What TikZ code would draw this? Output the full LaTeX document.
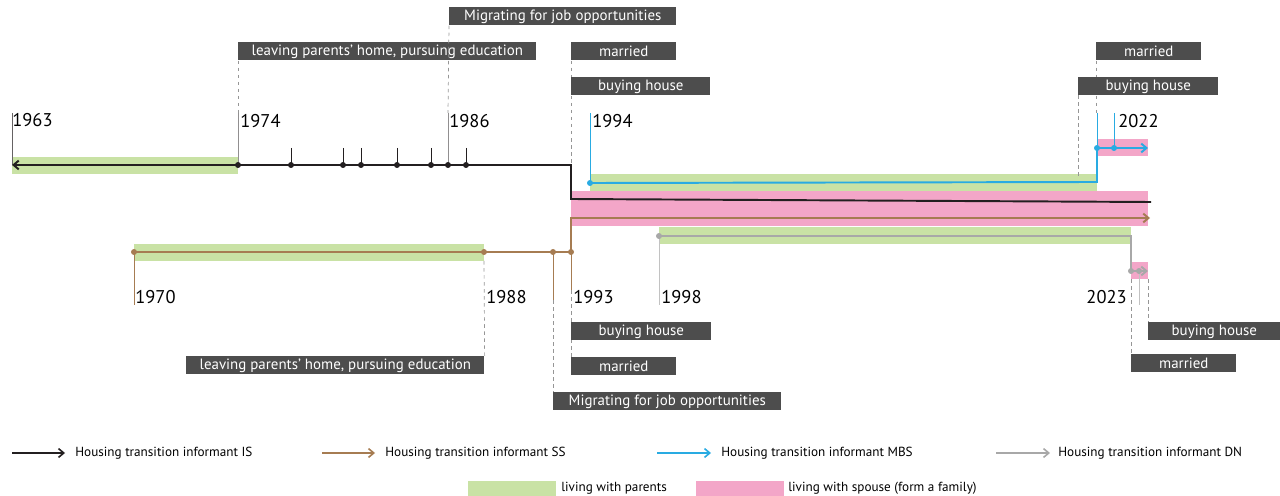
\documentclass[tikz,border=0pt]{standalone}
\usepackage{fontspec}
\setmainfont{PT Sans}
\usetikzlibrary{arrows.meta, positioning}
\definecolor{isblack}{RGB}{35,31,32}
\definecolor{ssbrown}{RGB}{166,124,82}
\definecolor{mbsblue}{RGB}{41,171,226}
\definecolor{dngray}{RGB}{168,168,168}
\definecolor{guidegray}{RGB}{150,150,150}
\definecolor{bandgreen}{RGB}{201,226,165}
\definecolor{bandpink}{RGB}{243,166,200}
\definecolor{tagfill}{RGB}{77,77,77}

\begin{document}
\begin{tikzpicture}[
  x=0.02cm, y=-0.02cm,
  tag/.style={
    fill=tagfill, text=white, anchor=north west,
    minimum height=0.36cm, inner sep=0pt,
    font=\fontsize{8.5}{10}\selectfont
  },
  year/.style={font=\fontsize{10.5}{12}\selectfont, inner sep=0pt, anchor=base west},
  legend/.style={font=\fontsize{7.5}{9}\selectfont, inner sep=0pt, anchor=west},
  guide/.style={draw=guidegray, dash pattern=on 2pt off 2pt, line width=0.4pt},
  yearline/.style={line width=0.5pt},
  track/.style={line width=1.1pt},
  arrowed/.style={-{Straight Barb[length=3pt,width=5pt]}},
]
\useasboundingbox (0,0) rectangle (1280,496);

% bands
\fill[bandgreen] (12,157) rectangle (238,174);
\fill[bandgreen] (590,174) rectangle (1097,191);
\fill[bandpink]  (1097,139) rectangle (1148,156);
\fill[bandpink]  (571,191) rectangle (1148,226);
\fill[bandgreen] (134,244) rectangle (484,261);
\fill[bandgreen] (659,227) rectangle (1131,244);
\fill[bandpink]  (1131,262) rectangle (1148,279);

% labels
\node[tag, minimum width=4.54cm] (migTop)  at (449,7)   {Migrating for job opportunities};
\node[tag, minimum width=5.96cm] (leaveTop) at (238,42) {leaving parents’ home, pursuing education};
\node[tag, minimum width=2.1cm]  (marTop)  at (571,42)  {married};
\node[tag, minimum width=2.1cm]  (marTopR) at (1096,42) {married};

\node[tag, minimum width=5.96cm] (leaveBot) at (186,356) {leaving parents’ home, pursuing education};
\node[tag, minimum width=2.1cm]  (marBot)  at (571,357)  {married};
\node[tag, minimum width=4.56cm] (migBot)  at (553,392)  {Migrating for job opportunities};
\node[tag, minimum width=2.1cm]  (marBotR) at (1131,354) {married};

% timeline points
\coordinate (y1963) at (12,113);
\coordinate (is0)   at (12,165);
\coordinate (is1)   at (238,165);
\coordinate (is2)   at (448,165);
\coordinate (isTop) at (571,165);
\coordinate (isLow) at (571,199);
\coordinate (isEnd) at (1151,202);

\coordinate (mbs0) at (590,183);
\coordinate (mbs1) at (1097,182);
\coordinate (mbs2) at (1097,148);
\coordinate (mbs3) at (1114,148);
\coordinate (mbsEnd) at (1148,148);

\coordinate (ss0) at (134,252);
\coordinate (ss1) at (484,252);
\coordinate (ss2) at (553,252);
\coordinate (ss3) at (571,252);
\coordinate (ssUp) at (571,218);
\coordinate (ssEnd) at (1150,218);

\coordinate (dn0) at (659,236);
\coordinate (dn1) at (1131,236);
\coordinate (dn2) at (1131,271);
\coordinate (dn3) at (1139,271);
\coordinate (dnEnd) at (1148,271);

% guides up
\draw[guide] (leaveTop.south west) -- (238,113);
\draw[guide] (migTop.south west) -- (448,113);
\draw[guide] (marTop.south west) -- (isTop);
\draw[guide] (marTopR.south west) -- (1096,113);
\draw[guide] (1078,95) -- (1078,178);
% guides down
\draw[guide] (484,261) -- (leaveBot.north east);
\draw[guide] (553,300) -- (migBot.north west);
\draw[guide] (571,290) -- (marBot.north west);
\draw[guide] (1131,279) -- (marBotR.north west);
\draw[guide] (1148,279) -- (1148,322);

\node[tag, minimum width=2.78cm] (buyTop)  at (571,77)   {buying house};
\node[tag, minimum width=2.8cm]  (buyTopR) at (1078,77)  {buying house};
\node[tag, minimum width=2.8cm]  (buyBot)  at (571,322)  {buying house};
\node[tag, minimum width=2.64cm] (buyBotR) at (1148,322) {buying house};

% year marks
\draw[yearline, isblack!70] (y1963) -- (is0);
\draw[yearline, isblack!50] (238,113) -- (is1);
\draw[yearline, isblack!50] (448,113) -- (is2);
\draw[yearline, mbsblue] (590,113) -- (mbs0);
\draw[yearline, mbsblue] (1097,113) -- (mbs2);
\draw[yearline, mbsblue] (1114,113) -- (mbs3);
\draw[yearline, ssbrown] (ss0) -- (134,305);
\draw[yearline, ssbrown] (ss2) -- (553,300);
\draw[yearline, ssbrown] (ss3) -- (571,290);
\draw[yearline, dngray!70] (dn0) -- (659,305);
\draw[yearline, dngray!70] (dn3) -- (1139,305);
\foreach \x in {291,343,361,397,431,466}
  \draw[yearline, isblack] (\x,148) -- (\x,165);

% tracks
\draw[track, isblack, {Straight Barb[length=3pt,width=5pt]}-]
  (is0) -- (isTop) -- (isLow) -- (isEnd);
\draw[track, mbsblue, arrowed] (mbs0) -- (mbs1) -- (mbs2) -- (mbsEnd);
\draw[track, ssbrown, arrowed] (ss0) -- (ss3) -- (ssUp) -- (ssEnd);
\draw[track, dngray, arrowed] (dn0) -- (dn1) -- (dn2) -- (dnEnd);

% dots
\foreach \x in {238,291,343,361,397,431,448,466}
  \fill[isblack] (\x,165) circle (0.06cm);
\foreach \p in {mbs0,mbs2,mbs3} \fill[mbsblue] (\p) circle (0.06cm);
\foreach \p in {ss0,ss1,ss2,ss3} \fill[ssbrown] (\p) circle (0.06cm);
\foreach \p in {dn0,dn2,dn3} \fill[dngray] (\p) circle (0.06cm);

% years
\node[year] (t1963) at (12,127)  {1963};
\node[year] (t1974) at (240,128) {1974};
\node[year] (t1986) at (449,128) {1986};
\node[year] (t1994) at (592,128) {1994};
\node[year] (t2022) at (1118,128) {2022};
\node[year] (t1970) at (135,303) {1970};
\node[year] (t1988) at (486,303) {1988};
\node[year] (t1993) at (573,303) {1993};
\node[year] (t1998) at (661,303) {1998};
\node[year, anchor=base east] (t2023) at (1127,303) {2023};

% legend
\node[legend] (legIS)  at (75,453)   {Housing transition informant IS};
\node[legend] (legSS)  at (385,453)  {Housing transition informant SS};
\node[legend] (legMBS) at (721,453)  {Housing transition informant MBS};
\node[legend] (legDN)  at (1058,453) {Housing transition informant DN};
\coordinate (kIS)  at (12,453);
\coordinate (kSS)  at (322,453);
\coordinate (kMBS) at (657,453);
\coordinate (kDN)  at (996,453);
\draw[line width=0.9pt, isblack, arrowed] (kIS) -- ([xshift=-0.2cm]legIS.west);
\draw[line width=0.9pt, ssbrown, arrowed] (kSS) -- ([xshift=-0.2cm]legSS.west);
\draw[line width=0.9pt, mbsblue, arrowed] (kMBS) -- ([xshift=-0.2cm]legMBS.west);
\draw[line width=0.9pt, dngray, arrowed] (kDN) -- ([xshift=-0.16cm]legDN.west);

\fill[bandgreen] (468,481) rectangle (556,496);
\node[legend] (legPar) at (561,488) {living with parents};
\fill[bandpink] (696,481) rectangle (784,496);
\node[legend] (legSpo) at (788,488) {living with spouse (form a family)};

\end{tikzpicture}
\end{document}
